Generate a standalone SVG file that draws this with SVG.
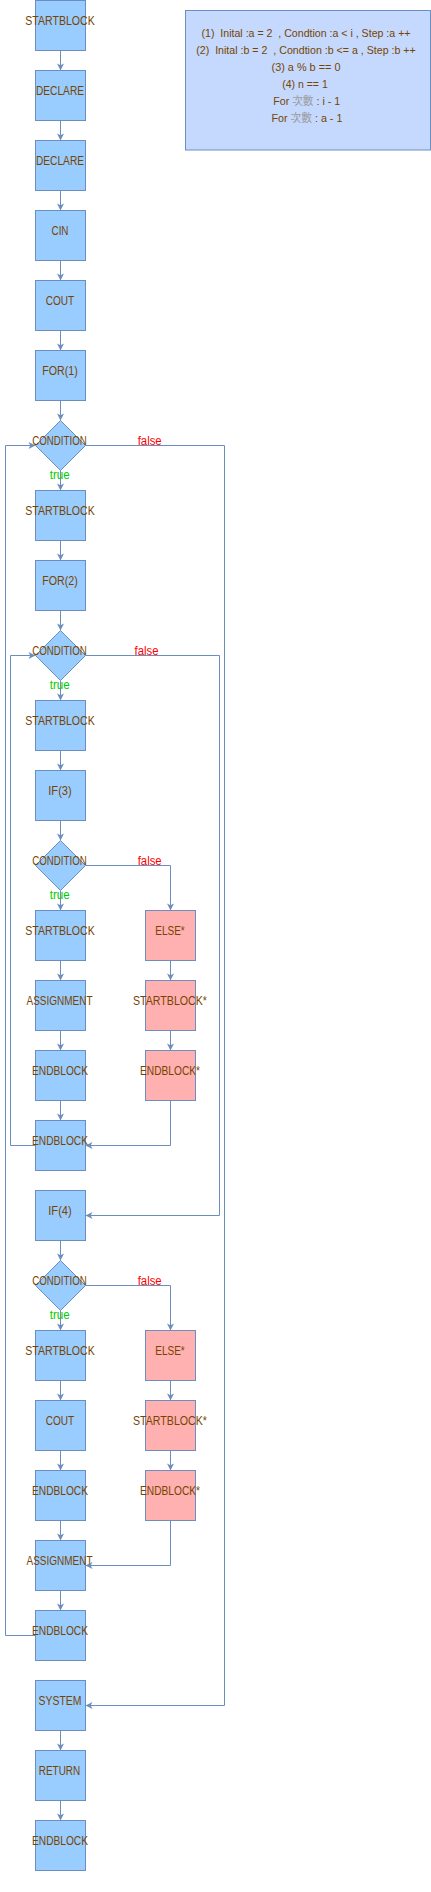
<svg xmlns="http://www.w3.org/2000/svg" width="431" height="1892" viewBox="0 0 431 1892">
<style>
.b{fill:#99ccff;stroke:#6c8ebf;stroke-width:1}
.p{fill:#ffb0b0;stroke:#6c8ebf;stroke-width:1}
.i{fill:#c4d9fd;stroke:#6c8ebf;stroke-width:1}
.t{font-family:"Liberation Sans",Arial,sans-serif;font-size:12px;fill:#774400;text-anchor:middle}
.s{font-family:"Liberation Sans",Arial,"Noto Sans CJK TC",sans-serif;font-size:11px;fill:#774400;text-anchor:middle}
.cj{fill:#9a9a9a}
.e{fill:none;stroke:#6c8ebf;stroke-width:1;marker-end:url(#a)}
.tr{font-family:"Liberation Sans",Arial,sans-serif;font-size:12px;fill:#00cc00;text-anchor:middle}
.fa{font-family:"Liberation Sans",Arial,sans-serif;font-size:12px;fill:#ff0000;text-anchor:middle}
</style>
<defs>
<marker id="a" markerUnits="userSpaceOnUse" markerWidth="8" markerHeight="8" viewBox="0 0 8 8" refX="7" refY="3.5" orient="auto" overflow="visible">
<path d="M0,0 L7,3.5 L0,7 L1.8,3.5 Z" fill="#6c8ebf"/>
</marker>
</defs>

<g id="info">
<rect class="i" x="185.5" y="10.5" width="245" height="139.5"/>
<text class="s" x="306" y="37.3" xml:space="preserve" textLength="209" lengthAdjust="spacingAndGlyphs">(1)  Inital :a = 2  , Condtion :a &lt; i , Step :a ++</text>
<text class="s" x="306" y="54.3" xml:space="preserve" textLength="219.5" lengthAdjust="spacingAndGlyphs">(2)  Inital :b = 2  , Condtion :b &lt;= a , Step :b ++</text>
<text class="s" x="306" y="71.3" textLength="69" lengthAdjust="spacingAndGlyphs">(3) a % b == 0</text>
<text class="s" x="305" y="88.3" textLength="45.5" lengthAdjust="spacingAndGlyphs">(4) n == 1</text>
<text class="s" x="306.7" y="105.3" textLength="67" lengthAdjust="spacingAndGlyphs">For <tspan class="cj">次數</tspan> : i - 1</text>
<text class="s" x="306.9" y="122.3" textLength="71" lengthAdjust="spacingAndGlyphs">For <tspan class="cj">次數</tspan> : a - 1</text>
</g>

<g id="n0"><rect class="b" x="35.5" y="0.5" width="50" height="50"/><text class="t" x="60" y="24.5" textLength="69.5" lengthAdjust="spacingAndGlyphs">STARTBLOCK</text></g>
<g id="n1"><rect class="b" x="35.5" y="70.5" width="50" height="50"/><text class="t" x="60" y="94.5" textLength="48" lengthAdjust="spacingAndGlyphs">DECLARE</text></g>
<g id="n2"><rect class="b" x="35.5" y="140.5" width="50" height="50"/><text class="t" x="60" y="164.5" textLength="48" lengthAdjust="spacingAndGlyphs">DECLARE</text></g>
<g id="n3"><rect class="b" x="35.5" y="210.5" width="50" height="50"/><text class="t" x="60" y="234.5" textLength="17" lengthAdjust="spacingAndGlyphs">CIN</text></g>
<g id="n4"><rect class="b" x="35.5" y="280.5" width="50" height="50"/><text class="t" x="60" y="304.5" textLength="28.5" lengthAdjust="spacingAndGlyphs">COUT</text></g>
<g id="n5"><rect class="b" x="35.5" y="350.5" width="50" height="50"/><text class="t" x="60" y="374.5" textLength="35.5" lengthAdjust="spacingAndGlyphs">FOR(1)</text></g>
<g id="n6"><polygon class="b" points="60.5,420.5 85.5,445.5 60.5,470.5 35.5,445.5"/><text class="t" x="59.5" y="444.5" textLength="54.5" lengthAdjust="spacingAndGlyphs">CONDITION</text></g>
<g id="n7"><rect class="b" x="35.5" y="490.5" width="50" height="50"/><text class="t" x="60" y="514.5" textLength="69.5" lengthAdjust="spacingAndGlyphs">STARTBLOCK</text></g>
<g id="n8"><rect class="b" x="35.5" y="560.5" width="50" height="50"/><text class="t" x="60" y="584.5" textLength="35.5" lengthAdjust="spacingAndGlyphs">FOR(2)</text></g>
<g id="n9"><polygon class="b" points="60.5,630.5 85.5,655.5 60.5,680.5 35.5,655.5"/><text class="t" x="59.5" y="654.5" textLength="54.5" lengthAdjust="spacingAndGlyphs">CONDITION</text></g>
<g id="n10"><rect class="b" x="35.5" y="700.5" width="50" height="50"/><text class="t" x="60" y="724.5" textLength="69.5" lengthAdjust="spacingAndGlyphs">STARTBLOCK</text></g>
<g id="n11"><rect class="b" x="35.5" y="770.5" width="50" height="50"/><text class="t" x="60" y="794.5" textLength="23.5" lengthAdjust="spacingAndGlyphs">IF(3)</text></g>
<g id="n12"><polygon class="b" points="60.5,840.5 85.5,865.5 60.5,890.5 35.5,865.5"/><text class="t" x="59.5" y="864.5" textLength="54.5" lengthAdjust="spacingAndGlyphs">CONDITION</text></g>
<g id="n13"><rect class="b" x="35.5" y="910.5" width="50" height="50"/><text class="t" x="60" y="934.5" textLength="69.5" lengthAdjust="spacingAndGlyphs">STARTBLOCK</text></g>
<g id="n13e"><rect class="p" x="145.5" y="910.5" width="50" height="50"/><text class="t" x="170" y="934.5" textLength="29.5" lengthAdjust="spacingAndGlyphs">ELSE*</text></g>
<g id="n14"><rect class="b" x="35.5" y="980.5" width="50" height="50"/><text class="t" x="59.5" y="1004.5" textLength="66" lengthAdjust="spacingAndGlyphs">ASSIGNMENT</text></g>
<g id="n14e"><rect class="p" x="145.5" y="980.5" width="50" height="50"/><text class="t" x="170" y="1004.5" textLength="74" lengthAdjust="spacingAndGlyphs">STARTBLOCK*</text></g>
<g id="n15"><rect class="b" x="35.5" y="1050.5" width="50" height="50"/><text class="t" x="60" y="1074.5" textLength="56" lengthAdjust="spacingAndGlyphs">ENDBLOCK</text></g>
<g id="n15e"><rect class="p" x="145.5" y="1050.5" width="50" height="50"/><text class="t" x="170" y="1074.5" textLength="60" lengthAdjust="spacingAndGlyphs">ENDBLOCK*</text></g>
<g id="n16"><rect class="b" x="35.5" y="1120.5" width="50" height="50"/><text class="t" x="60" y="1144.5" textLength="56" lengthAdjust="spacingAndGlyphs">ENDBLOCK</text></g>
<g id="n17"><rect class="b" x="35.5" y="1190.5" width="50" height="50"/><text class="t" x="60" y="1214.5" textLength="23.5" lengthAdjust="spacingAndGlyphs">IF(4)</text></g>
<g id="n18"><polygon class="b" points="60.5,1260.5 85.5,1285.5 60.5,1310.5 35.5,1285.5"/><text class="t" x="59.5" y="1284.5" textLength="54.5" lengthAdjust="spacingAndGlyphs">CONDITION</text></g>
<g id="n19"><rect class="b" x="35.5" y="1330.5" width="50" height="50"/><text class="t" x="60" y="1354.5" textLength="69.5" lengthAdjust="spacingAndGlyphs">STARTBLOCK</text></g>
<g id="n19e"><rect class="p" x="145.5" y="1330.5" width="50" height="50"/><text class="t" x="170" y="1354.5" textLength="29.5" lengthAdjust="spacingAndGlyphs">ELSE*</text></g>
<g id="n20"><rect class="b" x="35.5" y="1400.5" width="50" height="50"/><text class="t" x="60" y="1424.5" textLength="28.5" lengthAdjust="spacingAndGlyphs">COUT</text></g>
<g id="n20e"><rect class="p" x="145.5" y="1400.5" width="50" height="50"/><text class="t" x="170" y="1424.5" textLength="74" lengthAdjust="spacingAndGlyphs">STARTBLOCK*</text></g>
<g id="n21"><rect class="b" x="35.5" y="1470.5" width="50" height="50"/><text class="t" x="60" y="1494.5" textLength="56" lengthAdjust="spacingAndGlyphs">ENDBLOCK</text></g>
<g id="n21e"><rect class="p" x="145.5" y="1470.5" width="50" height="50"/><text class="t" x="170" y="1494.5" textLength="60" lengthAdjust="spacingAndGlyphs">ENDBLOCK*</text></g>
<g id="n22"><rect class="b" x="35.5" y="1540.5" width="50" height="50"/><text class="t" x="59.5" y="1564.5" textLength="66" lengthAdjust="spacingAndGlyphs">ASSIGNMENT</text></g>
<g id="n23"><rect class="b" x="35.5" y="1610.5" width="50" height="50"/><text class="t" x="60" y="1634.5" textLength="56" lengthAdjust="spacingAndGlyphs">ENDBLOCK</text></g>
<g id="n24"><rect class="b" x="35.5" y="1680.5" width="50" height="50"/><text class="t" x="60" y="1704.5" textLength="43" lengthAdjust="spacingAndGlyphs">SYSTEM</text></g>
<g id="n25"><rect class="b" x="35.5" y="1750.5" width="50" height="50"/><text class="t" x="59.5" y="1774.5" textLength="41.5" lengthAdjust="spacingAndGlyphs">RETURN</text></g>
<g id="n26"><rect class="b" x="35.5" y="1820.5" width="50" height="50"/><text class="t" x="60" y="1844.5" textLength="56" lengthAdjust="spacingAndGlyphs">ENDBLOCK</text></g>

<g id="connectors">
<path class="e" d="M60.5,50.5V70.5"/>
<path class="e" d="M60.5,120.5V140.5"/>
<path class="e" d="M60.5,190.5V210.5"/>
<path class="e" d="M60.5,260.5V280.5"/>
<path class="e" d="M60.5,330.5V350.5"/>
<path class="e" d="M60.5,400.5V420.5"/>
<path class="e" d="M60.5,470.5V490.5"/>
<path class="e" d="M60.5,540.5V560.5"/>
<path class="e" d="M60.5,610.5V630.5"/>
<path class="e" d="M60.5,680.5V700.5"/>
<path class="e" d="M60.5,750.5V770.5"/>
<path class="e" d="M60.5,820.5V840.5"/>
<path class="e" d="M60.5,890.5V910.5"/>
<path class="e" d="M60.5,960.5V980.5"/>
<path class="e" d="M60.5,1030.5V1050.5"/>
<path class="e" d="M60.5,1100.5V1120.5"/>
<path class="e" d="M60.5,1240.5V1260.5"/>
<path class="e" d="M60.5,1310.5V1330.5"/>
<path class="e" d="M60.5,1380.5V1400.5"/>
<path class="e" d="M60.5,1450.5V1470.5"/>
<path class="e" d="M60.5,1520.5V1540.5"/>
<path class="e" d="M60.5,1590.5V1610.5"/>
<path class="e" d="M60.5,1730.5V1750.5"/>
<path class="e" d="M60.5,1800.5V1820.5"/>
<path class="e" d="M170.5,960.5V980.5"/>
<path class="e" d="M170.5,1030.5V1050.5"/>
<path class="e" d="M170.5,1380.5V1400.5"/>
<path class="e" d="M170.5,1450.5V1470.5"/>
<path class="e" d="M85.5,445.5H224.5V1705.5H85.5"/>
<path class="e" d="M35.5,1635.5H5.5V445.5H35.5"/>
<path class="e" d="M85.5,655.5H219.5V1215.5H85.5"/>
<path class="e" d="M35.5,1145.5H10.5V655.5H35.5"/>
<path class="e" d="M85.5,865.5H170.5V910.5"/>
<path class="e" d="M170.5,1100.5V1145.5H85.5"/>
<path class="e" d="M85.5,1285.5H170.5V1330.5"/>
<path class="e" d="M170.5,1520.5V1565.5H85.5"/>
<text class="tr" x="59.7" y="479" textLength="20" lengthAdjust="spacingAndGlyphs">true</text>
<text class="tr" x="59.7" y="689" textLength="20" lengthAdjust="spacingAndGlyphs">true</text>
<text class="tr" x="59.7" y="899" textLength="20" lengthAdjust="spacingAndGlyphs">true</text>
<text class="tr" x="59.7" y="1319" textLength="20" lengthAdjust="spacingAndGlyphs">true</text>
<text class="fa" x="149.7" y="444.5" textLength="24" lengthAdjust="spacingAndGlyphs">false</text>
<text class="fa" x="146.5" y="654.5" textLength="24" lengthAdjust="spacingAndGlyphs">false</text>
<text class="fa" x="149.7" y="864.5" textLength="24" lengthAdjust="spacingAndGlyphs">false</text>
<text class="fa" x="149.7" y="1284.5" textLength="24" lengthAdjust="spacingAndGlyphs">false</text>
</g>
</svg>
